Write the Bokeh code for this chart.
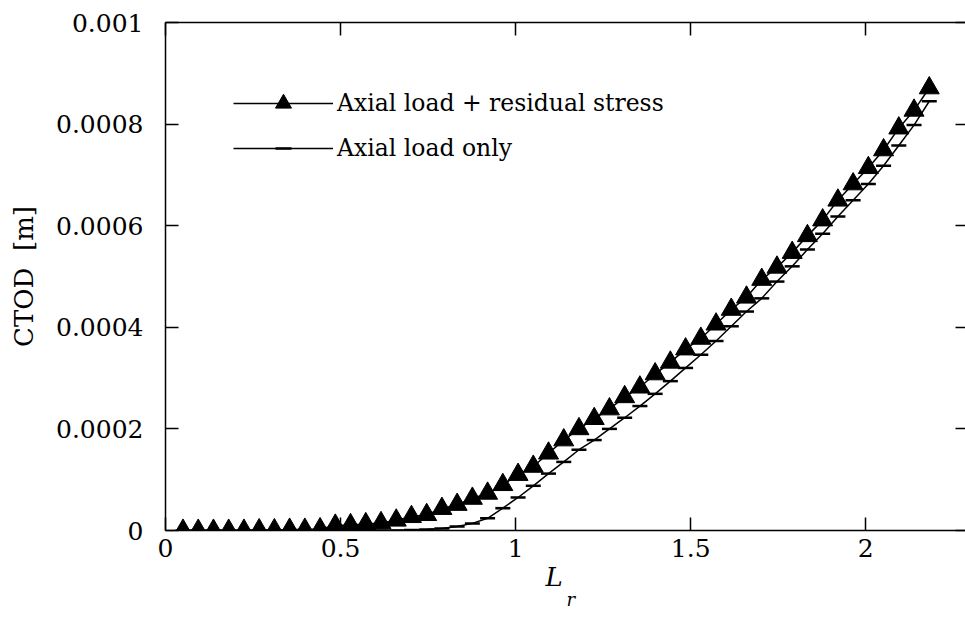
from bokeh.plotting import figure
from bokeh.models import (Range1d, LinearAxis, FixedTicker, CustomJSTickFormatter,
                          Legend, LegendItem, Title)
from bokeh.embed import file_html
from bokeh.resources import INLINE

# ---- data ----
lr = [0.050, 0.0935, 0.137, 0.1805, 0.224, 0.2675, 0.311, 0.3545, 0.398, 0.4415,
      0.485, 0.5285, 0.572, 0.6155, 0.659, 0.7025, 0.746, 0.7895, 0.833, 0.8765,
      0.920, 0.9635, 1.007, 1.0505, 1.094, 1.1375, 1.181, 1.2245, 1.268, 1.3115,
      1.355, 1.3985, 1.442, 1.4855, 1.529, 1.5725, 1.616, 1.6595, 1.703, 1.7465,
      1.790, 1.8335, 1.877, 1.9205, 1.964, 2.0075, 2.051, 2.0945, 2.138, 2.1815]

ctod_residual = [0, 0, 0, 0, 0, 1e-6, 1e-6, 2e-6, 2e-6, 3e-6,
                 1.0e-5, 1.1e-5, 1.3e-5, 1.5e-5, 2.0e-5, 2.7e-5, 3.1e-5, 4.3e-5, 5.1e-5, 6.3e-5,
                 7.3e-5, 9.0e-5, 1.10e-4, 1.26e-4, 1.52e-4, 1.78e-4, 2.00e-4, 2.20e-4, 2.39e-4, 2.63e-4,
                 2.82e-4, 3.08e-4, 3.31e-4, 3.57e-4, 3.78e-4, 4.06e-4, 4.35e-4, 4.59e-4, 4.94e-4, 5.18e-4,
                 5.47e-4, 5.80e-4, 6.11e-4, 6.50e-4, 6.82e-4, 7.14e-4, 7.49e-4, 7.92e-4, 8.27e-4, 8.71e-4]

ctod_axial = [0, 0, 0, 0, 0, 0, 0, 0, 0, 0,
              0, 0, 0, 0, 0, 1e-6, 2e-6, 4e-6, 8e-6, 1.4e-5,
              2.4e-5, 4.4e-5, 6.5e-5, 8.8e-5, 1.12e-4, 1.35e-4, 1.59e-4, 1.78e-4, 2.00e-4, 2.22e-4,
              2.45e-4, 2.69e-4, 2.94e-4, 3.20e-4, 3.46e-4, 3.73e-4, 4.02e-4, 4.31e-4, 4.57e-4, 4.90e-4,
              5.20e-4, 5.53e-4, 5.84e-4, 6.18e-4, 6.50e-4, 6.82e-4, 7.18e-4, 7.58e-4, 7.98e-4, 8.45e-4]

x_ticks = [0, 0.5, 1, 1.5, 2]
y_ticks = [0, 0.0002, 0.0004, 0.0006, 0.0008, 0.001]
series_labels = ["Axial load + residual stress", "Axial load only"]
y_label = "CTOD\u00a0\u00a0[m]"
x_label_main = "L"
x_label_sub = "r"

FONT = "DejaVu Serif"
TICK_SIZE = "25px"

p = figure(width=965, height=632, output_backend="svg", toolbar_location=None,
           x_range=Range1d(0, 2.285), y_range=Range1d(0, 0.001),
           min_border_left=165, min_border_right=0, min_border_top=22,
           min_border_bottom=102, background_fill_color="white",
           border_fill_color="white")
p.outline_line_color = None
p.xgrid.visible = False
p.ygrid.visible = False

fmt = CustomJSTickFormatter(code="return tick == 0 ? '0' : String(parseFloat(tick.toPrecision(6)));")
blank = CustomJSTickFormatter(code="return '';")

def style(ax, ticks, formatter, standoff, show_line=True):
    ax.ticker = FixedTicker(ticks=ticks)
    ax.formatter = formatter
    ax.major_tick_in = 13
    ax.major_tick_out = 0
    ax.minor_tick_line_color = None
    ax.major_tick_line_width = 1.5
    ax.major_tick_line_color = "black"
    ax.axis_line_width = 1.5
    ax.axis_line_color = "black" if show_line else None
    ax.major_label_text_font = FONT
    ax.major_label_text_font_size = TICK_SIZE
    ax.major_label_text_color = "black"
    ax.major_label_standoff = standoff

xb = p.xaxis[0]
style(xb, x_ticks, fmt, 8)
yl = p.yaxis[0]
style(yl, y_ticks, fmt, 22)
yl.axis_label = y_label
yl.axis_label_text_font = FONT
yl.axis_label_text_font_style = "normal"
yl.axis_label_text_font_size = "26px"
yl.axis_label_standoff = 14
yl.axis_label_text_color = "black"

xt = LinearAxis()
style(xt, x_ticks, blank, 0)
xt.major_label_text_font_size = "0px"
p.add_layout(xt, "above")

yr = LinearAxis()
style(yr, y_ticks, blank, 0, show_line=False)
yr.major_tick_in = 10
yr.major_label_text_font_size = "0px"
p.add_layout(yr, "right")

# series
r2_line = p.line(lr, ctod_axial, line_color="black", line_width=1.5)
r2_pts = p.scatter(lr, ctod_axial, marker="dash", size=15, line_width=2.5, line_color="black")
r1_line = p.line(lr, ctod_residual, line_color="black", line_width=1.5)
r1_pts = p.scatter(lr, ctod_residual, marker="triangle", size=20,
                   fill_color="black", line_color="black")

legend = Legend(items=[LegendItem(label=series_labels[0], renderers=[r1_line, r1_pts]),
                       LegendItem(label=series_labels[1], renderers=[r2_line, r2_pts])],
                location=(68, 362), glyph_width=100, glyph_height=40, label_height=40,
                spacing=5, padding=0, margin=0, label_standoff=4,
                border_line_color=None, background_fill_alpha=0,
                label_text_font=FONT, label_text_font_size="23.5px",
                label_text_color="black")
p.add_layout(legend)

# x-axis label: italic L with subscript r (two stacked titles below the axis)
t_L = Title(text=x_label_main, text_font=FONT, text_font_style="italic",
            text_font_size="26px", text_color="black", align="left",
            offset=380, standoff=0)
p.add_layout(t_L, "below")
t_r = Title(text=x_label_sub, text_font=FONT, text_font_style="italic",
            text_font_size="18px", text_color="black", align="left",
            offset=401, standoff=-9)
p.add_layout(t_r, "below")

open("out.html", "w").write(file_html(p, INLINE))
